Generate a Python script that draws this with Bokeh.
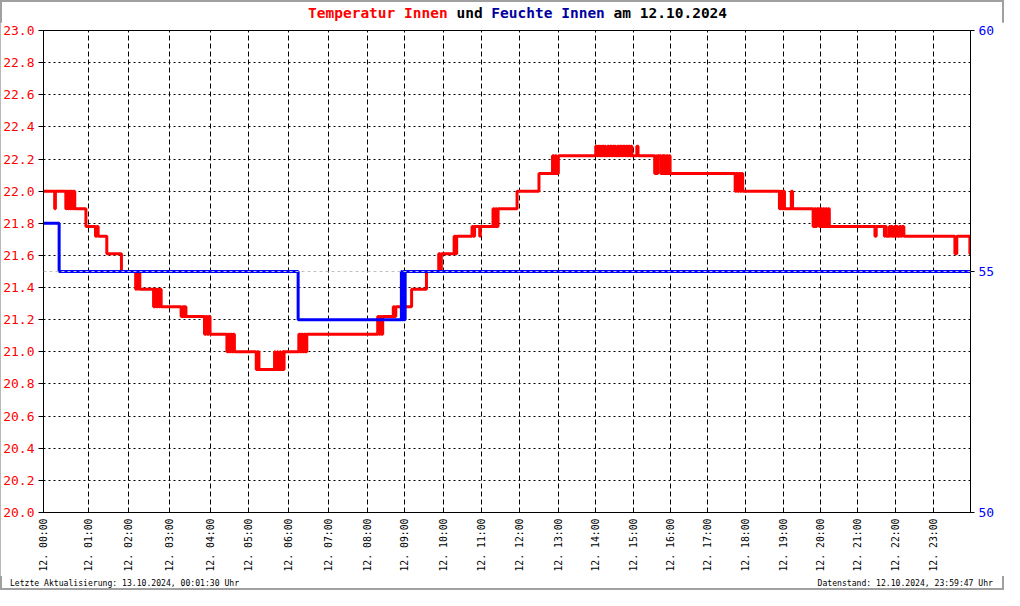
import numpy as np
from bokeh.plotting import figure
from bokeh.layouts import column
from bokeh.models import (Range1d, LinearAxis, FixedTicker, CustomJSTickFormatter,
                          PrintfTickFormatter, Span, Div)
from bokeh.embed import file_html
from bokeh.resources import INLINE

# ---------------- data ----------------
# sample-index position of each full hour on the x axis (00:00 ... 24:00)
hour_index = [0, 45.4, 86.0, 128.0, 170.0, 208.0, 249.4, 290.0, 329.0, 367.0,
              406.4, 445.4, 484.0, 523.4, 561.4, 599.4, 637.0, 675.0, 713.4,
              752.0, 790.0, 828.0, 866.4, 904.4, 942.4]
hour_labels = ["12. 00:00", "12. 01:00", "12. 02:00", "12. 03:00", "12. 04:00",
               "12. 05:00", "12. 06:00", "12. 07:00", "12. 08:00", "12. 09:00",
               "12. 10:00", "12. 11:00", "12. 12:00", "12. 13:00", "12. 14:00",
               "12. 15:00", "12. 16:00", "12. 17:00", "12. 18:00", "12. 19:00",
               "12. 20:00", "12. 21:00", "12. 22:00", "12. 23:00"]
temp_ticks = [20.0, 20.2, 20.4, 20.6, 20.8, 21.0, 21.2, 21.4, 21.6, 21.8,
              22.0, 22.2, 22.4, 22.6, 22.8, 23.0]
hum_ticks = [50, 55, 60]

# Temperatur Innen (change points, value holds until next time)
temp_times = [
    "00:00", "00:15", "00:16", "00:30", "00:31", "00:33", "00:34", "00:36", "00:37", "00:39", "00:40", "00:42",
    "00:57", "01:11", "01:13", "01:15", "01:28", "01:50",
    "02:11", "02:12", "02:14", "02:15", "02:17",
    "02:37", "02:39", "02:41", "02:43", "02:45", "02:46", "02:48",
    "03:17", "03:19", "03:21", "03:22", "03:24",
    "03:51", "03:53", "03:55", "03:57", "03:59",
    "04:26", "04:28", "04:30", "04:32", "04:34", "04:36", "04:38",
    "05:12", "05:14", "05:16",
    "05:39", "05:40", "05:43", "05:44", "05:47", "05:48", "05:51", "05:52", "05:53",
    "06:15", "06:17", "06:19", "06:21", "06:23", "06:25", "06:27",
    "08:17", "08:19", "08:21", "08:23", "08:25",
    "08:42", "08:44", "08:46",
    "09:11", "09:34", "09:53", "09:55", "09:57",
    "10:17", "10:19", "10:21", "10:45", "10:47", "10:49", "10:57", "10:58",
    "11:18", "11:20", "11:22", "11:24", "11:26", "11:56",
    "12:30", "12:51", "12:53", "12:55", "12:57", "13:00",
    "14:00", "14:02", "14:04", "14:06", "14:08", "14:09",
    "14:11", "14:13", "14:15", "14:16",
    "14:19", "14:21", "14:23", "14:26", "14:28", "14:30", "14:31", "14:32",
    "14:35", "14:37", "14:39", "14:42", "14:44", "14:47", "14:49", "14:51",
    "14:53", "14:55", "14:57", "14:58",
    "15:06", "15:08",
    "15:35", "15:37", "15:38", "15:40", "15:45", "15:47", "15:48", "15:49",
    "15:52", "15:54", "15:56", "15:58", "16:00",
    "17:44", "17:46", "17:48", "17:50", "17:52", "17:54", "17:56",
    "18:54", "18:56", "18:58", "19:00", "19:02", "19:13", "19:15",
    "19:48", "19:50", "19:52", "19:54", "19:58", "20:00", "20:02", "20:04",
    "20:06", "20:08", "20:10", "20:12", "20:14",
    "21:27", "21:29",
    "21:42", "21:43", "21:45", "21:50", "21:52", "21:53", "21:55", "21:58",
    "22:00", "22:01", "22:03", "22:06", "22:08", "22:10", "22:13",
    "23:35", "23:38", "23:59", "24:00",
]
temp_values = [
    22.00, 21.89, 22.00, 21.89, 22.00, 21.89, 22.00, 21.89, 22.00, 21.89, 22.00, 21.89,
    21.78, 21.72, 21.78, 21.72, 21.61, 21.50,
    21.39, 21.50, 21.39, 21.50, 21.39,
    21.28, 21.39, 21.28, 21.39, 21.28, 21.39, 21.28,
    21.22, 21.28, 21.22, 21.28, 21.22,
    21.11, 21.22, 21.11, 21.22, 21.11,
    21.00, 21.11, 21.00, 21.11, 21.00, 21.11, 21.00,
    20.89, 21.00, 20.89,
    21.00, 20.89, 21.00, 20.89, 21.00, 20.89, 21.00, 20.89, 21.00,
    21.11, 21.00, 21.11, 21.00, 21.11, 21.00, 21.11,
    21.22, 21.11, 21.22, 21.11, 21.22,
    21.28, 21.22, 21.28,
    21.39, 21.50, 21.61, 21.50, 21.61,
    21.72, 21.61, 21.72, 21.78, 21.72, 21.78, 21.72, 21.78,
    21.89, 21.78, 21.89, 21.78, 21.89, 22.00,
    22.11, 22.22, 22.11, 22.22, 22.11, 22.22,
    22.28, 22.22, 22.28, 22.22, 22.28, 22.22,
    22.28, 22.22, 22.28, 22.22,
    22.28, 22.22, 22.28, 22.22, 22.28, 22.22, 22.28, 22.22,
    22.28, 22.22, 22.28, 22.22, 22.28, 22.22, 22.28, 22.22,
    22.28, 22.22, 22.28, 22.22,
    22.28, 22.22,
    22.11, 22.22, 22.11, 22.22, 22.11, 22.22, 22.11, 22.22,
    22.11, 22.22, 22.11, 22.22, 22.11,
    22.00, 22.11, 22.00, 22.11, 22.00, 22.11, 22.00,
    21.89, 22.00, 21.89, 22.00, 21.89, 22.00, 21.89,
    21.78, 21.89, 21.78, 21.89, 21.78, 21.89, 21.78, 21.89,
    21.78, 21.89, 21.78, 21.89, 21.78,
    21.72, 21.78,
    21.72, 21.78, 21.72, 21.78, 21.72, 21.78, 21.72, 21.78,
    21.72, 21.78, 21.72, 21.78, 21.72, 21.78, 21.72,
    21.61, 21.72, 21.61, 21.61,
]

# Feuchte Innen (change points)
hum_times = ["00:00", "00:21", "06:14", "08:55", "08:56", "08:58", "08:59", "09:01", "24:00"]
hum_values = [56, 55, 54, 55, 54, 55, 54, 55, 55]
hum_reference = 55

title_parts = [("Temperatur Innen", "#ff0000"), ("und", "#000000"),
               ("Feuchte Innen", "#0000a0"), ("am 12.10.2024", "#000000")]
footer_left = "Letzte Aktualisierung: 13.10.2024, 00:01:30 Uhr"
footer_right = "Datenstand: 12.10.2024, 23:59:47 Uhr"

# ---------------- helpers ----------------
def to_x(times):
    h = np.array([int(t[:2]) + int(t[3:]) / 60.0 for t in times])
    return np.interp(h, np.arange(len(hour_index)), hour_index)

MONO = "DejaVu Sans Mono"
W, H = 1004, 590
TITLE_H = 22
FOOT_H = 14
BL, BR, BT, BB = 43, 34, 8, 64
FIG_H = H - TITLE_H - FOOT_H

p = figure(width=W, height=FIG_H, output_backend="svg", toolbar_location=None,
           x_range=Range1d(hour_index[0], hour_index[-1]), y_range=Range1d(20, 23),
           min_border_left=BL, min_border_right=BR, min_border_top=BT, min_border_bottom=BB,
           x_axis_location="below", y_axis_location="left", margin=(0, 0, 0, 0))
p.background_fill_color = "white"
p.border_fill_color = "white"
p.outline_line_color = "black"
p.outline_line_width = 1
p.extra_y_ranges = {"hum": Range1d(50, 60)}

# x axis
xax = p.xaxis[0]
xax.ticker = FixedTicker(ticks=hour_index[:-1])
xax.formatter = CustomJSTickFormatter(args=dict(pos=hour_index[:-1], lab=hour_labels), code="""
    let best = 0;
    for (let i = 0; i < pos.length; i++) {
        if (Math.abs(pos[i] - tick) < Math.abs(pos[best] - tick)) best = i;
    }
    return lab[best];
""")
xax.major_label_orientation = np.pi / 2
xax.major_label_text_font = MONO
xax.major_label_text_font_size = "9.8px"
xax.major_label_text_color = "black"
xax.major_tick_out = 0
xax.major_tick_in = 0
xax.minor_tick_out = 0
xax.minor_tick_in = 0
xax.major_label_standoff = 6
xax.axis_line_color = "black"

# left y axis
yax = p.yaxis[0]
yax.ticker = FixedTicker(ticks=temp_ticks)
yax.formatter = PrintfTickFormatter(format="%.1f")
yax.major_label_text_font = MONO
yax.major_label_text_font_size = "13px"
yax.major_label_text_color = "#ff0000"
yax.major_tick_out = 5
yax.major_tick_in = 0
yax.minor_tick_out = 0
yax.minor_tick_in = 0
yax.major_label_standoff = 4
yax.axis_line_color = "black"

# right y axis
rax = LinearAxis(y_range_name="hum", ticker=FixedTicker(ticks=hum_ticks))
rax.major_label_text_font = MONO
rax.major_label_text_font_size = "13px"
rax.major_label_text_color = "#0000ff"
rax.major_tick_out = 4
rax.major_tick_in = 0
rax.minor_tick_out = 0
rax.minor_tick_in = 0
rax.major_label_standoff = 4
rax.axis_line_color = "black"
p.add_layout(rax, "right")

# grids
p.xgrid.ticker = FixedTicker(ticks=hour_index[:-1])
p.xgrid.grid_line_color = "black"
p.xgrid.grid_line_dash = "5 3"
p.xgrid.grid_line_width = 1
p.ygrid.ticker = FixedTicker(ticks=temp_ticks)
p.ygrid.grid_line_color = "black"
p.ygrid.grid_line_dash = "2 3"
p.ygrid.grid_line_width = 1

# humidity reference line
p.add_layout(Span(location=hum_reference, dimension="width", y_range_name="hum",
                  line_color="#c0c0c0", line_width=1, line_dash="3 3"))

# series
p.step(to_x(temp_times), temp_values, mode="after", line_color="#ff0000", line_width=3)
p.step(to_x(hum_times), hum_values, mode="after", line_color="#0000ff", line_width=3,
       y_range_name="hum")

# title (coloured parts, monospace)
spans = " ".join(f'<span style="color:{c}">{t}</span>' for t, c in title_parts)
title_html = (
    f'<div style="position:relative;width:{W}px;height:{TITLE_H}px;">'
    f'<span style="position:absolute;left:308px;top:5px;white-space:pre;'
    f"font-family:'{MONO}';font-size:14.5px;font-weight:bold;line-height:17px;\">"
    f'{spans}</span></div>'
)
title_div = Div(text=title_html, width=W, height=TITLE_H, margin=(0, 0, 0, 0))

footer_html = (
    f'<div style="position:relative;width:{W}px;height:{FOOT_H}px;'
    f"font-family:'{MONO}';font-size:8.1px;line-height:12px;white-space:pre;color:#000;\">"
    f'<span style="position:absolute;left:10px;top:1px;">{footer_left}</span>'
    f'<span style="position:absolute;right:11px;top:1px;">{footer_right}</span></div>'
)
footer_div = Div(text=footer_html, width=W, height=FOOT_H, margin=(0, 0, 0, 0))

layout = column(title_div, p, footer_div, spacing=0, margin=(0, 0, 0, 0),
                styles={"outline": "2px solid #a0a0a0", "outline-offset": "-2px",
                        "background": "white"})

open("out.html", "w").write(file_html(layout, INLINE))
